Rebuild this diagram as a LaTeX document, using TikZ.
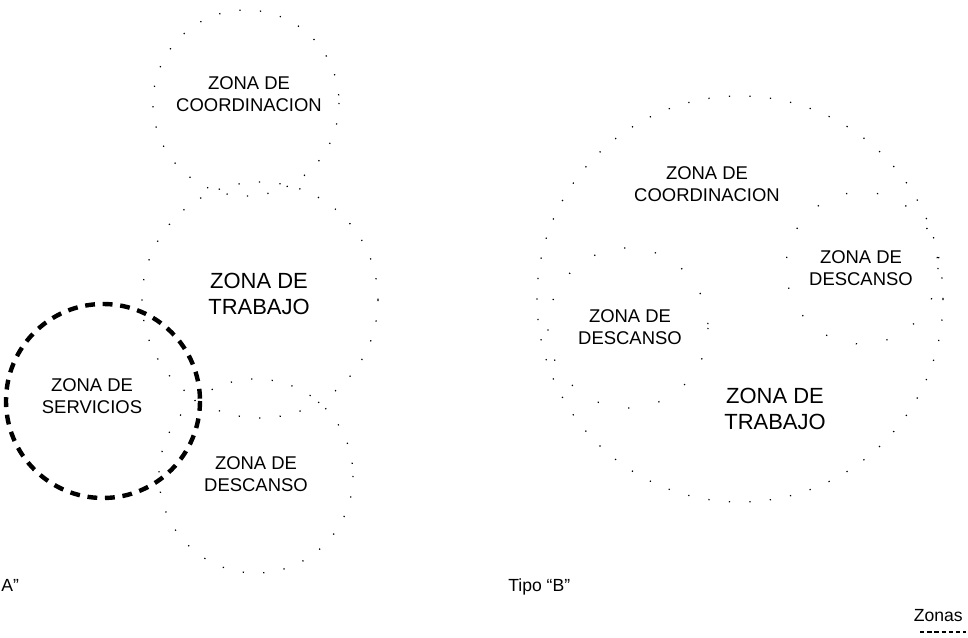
\documentclass[tikz,border=0pt]{standalone}
\usepackage{fontspec}
\setmainfont{Liberation Sans}
\usetikzlibrary{positioning}
\tikzset{
  zone/.style={align=center,inner sep=0pt,font=\fontsize{10.5}{12.5}\selectfont},
  bigzone/.style={align=center,inner sep=0pt,font=\fontsize{12.5}{14.5}\selectfont},
  caption/.style={inner sep=0pt,font=\fontsize{10}{12}\selectfont},
  faint/.style={line width=0.7pt,dash pattern=on 0.7pt off 11pt},
  fainter/.style={line width=0.7pt,dash pattern=on 0.7pt off 17pt},
  service/.style={line width=2.5pt,dash pattern=on 5.6pt off 4.4pt}
}

\begin{document}
\begin{tikzpicture}[x=0.02cm,y=-0.02cm]
  \clip (0,0) rectangle (968,638);
  % tipo A
  \draw[faint] (246,103) circle (93);
  \draw[faint] (260,300) circle (118);
  \draw[faint] (256,476) circle (97);
  \draw[service] (103,401) circle (97);
  \node[zone] (coordA) at (249,94) {ZONA DE\\COORDINACION};
  \node[bigzone] (trabajoA) at (259,294) {ZONA DE\\TRABAJO};
  \node[zone] (serviciosA) at (92,396) {ZONA DE\\SERVICIOS};
  \node[zone] (descansoA) at (256,474) {ZONA DE\\DESCANSO};
  \node[caption,anchor=base west] (tipoA) at (1,592) {A”};
  % tipo B
  \draw[faint] (740,299) circle (203);
  \draw[fainter] (862,268) circle (76);
  \draw[fainter] (628,328) circle (80);
  \node[zone] (coordB) at (707,184) {ZONA DE\\COORDINACION};
  \node[zone] (descansoB1) at (861,268) {ZONA DE\\DESCANSO};
  \node[zone] (descansoB2) at (630,327) {ZONA DE\\DESCANSO};
  \node[bigzone] (trabajoB) at (775,409) {ZONA DE\\TRABAJO};
  \node[caption,anchor=base west] (tipoB) at (508,592) {Tipo “B”};
  % leyenda
  \node[caption,anchor=base east] (zonas) at (963,622) {Zonas};
  \draw[line width=1pt,dash pattern=on 2.5pt off 1.6pt] (920,632) -- (966,632);
\end{tikzpicture}
\end{document}
